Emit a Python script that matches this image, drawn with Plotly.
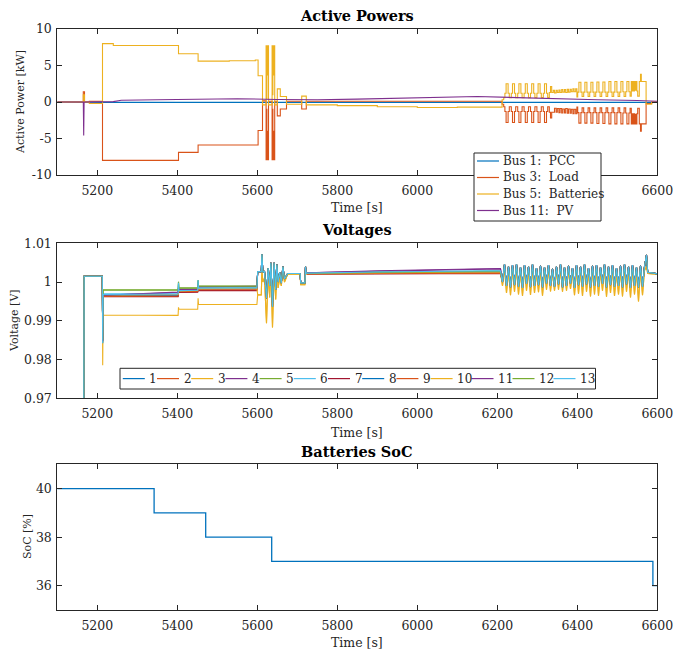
import plotly.graph_objects as go

W, H = 674, 651
FONT = "DejaVu Serif"
INK = "#262626"
COLORS = ['#0072BD', '#D95319', '#EDB120', '#7E2F8E', '#77AC30', '#4DBEEE', '#A2142F']

X_RANGE = [5100, 6600]
X_TICKS = [5200, 5400, 5600, 5800, 6000, 6200, 6400, 6600]

# ---------------- Active powers [kW] ----------------
T_PCC = [5100, 5214, 6600]
P_PCC = [0.0, -0.05, -0.05]

T_PV = [5100, 5165, 5166, 5167, 5240, 5260, 5350, 5450, 5550, 5650, 5750,
        5850, 5950, 6050, 6150, 6250, 6350, 6450, 6550, 6600]
P_PV = [0.0, 0.0, -4.6, 0.0, 0.05, 0.25, 0.3, 0.4, 0.45, 0.35, 0.3,
        0.4, 0.55, 0.7, 0.75, 0.6, 0.4, 0.3, 0.2, 0.1]

T_BAT_PRE = [5100, 5165, 5168, 5180, 5213, 5240, 5403, 5452, 5530, 5595, 5602,
             5613, 5622, 5623, 5624, 5625, 5626, 5628, 5637, 5638, 5639, 5640,
             5641, 5643.5, 5650, 5657.5, 5673, 5711, 5722.5, 5800, 5900, 6000, 6100]
P_BAT_PRE = [0.0, 1.0, 0.0, -0.2, 8.0, 7.75, 6.6, 5.6, 5.65, 5.75, 3.6,
             -0.4, 7.7, 0.5, 7.7, 3.7, 7.7, -0.4, 7.7, 1.0, 7.7, 3.7,
             7.7, -0.4, 1.8, 0.75, -0.3, 0.8, -0.4, -0.5, -0.65, -0.75, -0.7]

T_LOAD_PRE = [5100, 5165, 5168, 5180, 5213, 5403, 5452, 5602, 5613, 5622, 5623,
              5624, 5625, 5626, 5628, 5637, 5638, 5639, 5640, 5641, 5643.5, 5650,
              5657.5, 5673, 5711, 5722.5]
P_LOAD_PRE = [0.0, 1.4, 0.0, 0.1, -8.0, -6.9, -5.9, -3.9, 0.15, -7.9, -1.0,
              -7.9, -4.0, -7.9, 0.1, -7.9, -1.0, -7.9, -4.0, -7.9, 0.1, -1.9,
              -0.95, 0.1, -0.95, 0.1]

T_OSC_P = [6212, 6216,
           6219, 6222, 6227, 6230, 6235, 6238, 6243, 6246,
           6251, 6254, 6259, 6262, 6267, 6270, 6275, 6278,
           6283, 6286, 6291, 6294, 6299, 6302, 6307, 6310,
           6315, 6318, 6323, 6326,
           6330, 6333, 6336,
           6340, 6343, 6347, 6350, 6354, 6357, 6361, 6364, 6368,
           6371, 6375, 6378, 6382, 6385, 6389, 6392, 6396, 6399,
           6401, 6404, 6409, 6412, 6416, 6419, 6424, 6427,
           6431, 6434, 6439, 6442, 6446, 6449, 6454, 6457,
           6461, 6464, 6469, 6472, 6476, 6479, 6484, 6487,
           6491, 6494, 6499, 6502, 6506, 6509, 6514, 6517,
           6521, 6524, 6529, 6532,
           6535, 6537, 6539, 6541, 6543, 6545, 6547, 6549,
           6551, 6555, 6558, 6560, 6572, 6586, 6600]
P_BAT_OSC = [0.3, 0.6,
             1.2, 2.5, 1.2, 0.6, 1.2, 2.5, 1.2, 0.6,
             1.2, 2.5, 1.2, 0.6, 1.2, 2.5, 1.2, 0.6,
             1.2, 2.5, 1.2, 0.6, 1.2, 2.5, 1.2, 0.6,
             1.2, 2.5, 1.2, 0.6,
             1.3, 2.1, 1.3,
             1.6, 1.25, 1.6, 1.3, 1.65, 1.3, 1.7, 1.35, 1.7,
             1.3, 1.75, 1.35, 1.75, 1.4, 1.8, 1.4, 1.8, 0.7,
             1.35, 2.7, 1.35, 0.75, 1.35, 2.7, 1.35, 0.75,
             1.35, 2.7, 1.35, 0.75, 1.35, 2.75, 1.35, 0.75,
             1.35, 2.75, 1.35, 0.75, 1.35, 2.8, 1.35, 0.75,
             1.35, 2.8, 1.35, 0.75, 1.35, 2.8, 1.4, 0.75,
             1.4, 2.8, 1.4, 0.8,
             2.8, 1.5, 2.8, 1.5, 2.8, 1.6, 2.8, 1.5,
             0.8, 2.8, 3.8, 2.8, -0.3, 0.0, 0.0]
P_LOAD_OSC = [-0.3, -0.65,
              -1.3, -2.8, -1.3, -0.65, -1.3, -2.8, -1.3, -0.65,
              -1.3, -2.8, -1.3, -0.65, -1.3, -2.8, -1.3, -0.65,
              -1.3, -2.8, -1.3, -0.65, -1.3, -2.8, -1.3, -0.65,
              -1.3, -2.8, -1.3, -0.65,
              -1.4, -2.2, -1.4,
              -1.4, -0.85, -1.4, -0.9, -1.45, -0.9, -1.5, -0.95, -1.5,
              -0.9, -1.55, -0.95, -1.55, -1.0, -1.6, -1.0, -1.6, -0.7,
              -1.45, -2.9, -1.45, -0.8, -1.45, -2.9, -1.45, -0.8,
              -1.45, -2.9, -1.45, -0.8, -1.45, -2.95, -1.45, -0.8,
              -1.45, -2.95, -1.45, -0.8, -1.45, -3.0, -1.45, -0.8,
              -1.45, -3.0, -1.45, -0.8, -1.45, -3.0, -1.5, -0.8,
              -1.5, -3.0, -1.5, -0.85,
              -3.0, -1.6, -3.0, -1.6, -3.0, -1.7, -3.0, -1.6,
              -0.85, -3.0, -4.0, -3.0, -0.2, 0.0, 0.0]

# ---------------- Bus voltages [V] ----------------
T_LEAD = [5100, 5165, 5167, 5212.5]
V_LEAD = [0.90, 0.90, 1.0015, 1.0015]
T_STEP_A = [5213.5, 5214.5, 5402, 5403, 5404, 5451, 5452, 5453, 5599]
T_STEP_B = [5725, 5900, 6100, 6208]
# one row per bus: 9 values on T_STEP_A followed by 4 values on T_STEP_B
V_STEPS = [
    [0.9842, 0.9966, 0.9966, 0.9980, 0.9976, 0.9977, 0.9990, 0.9982, 0.9983, 1.0022, 1.0024, 1.0027, 1.0026],
    [0.9850, 0.9963, 0.9963, 0.9975, 0.9974, 0.9975, 0.9985, 0.9979, 0.9979, 1.0021, 1.0022, 1.0023, 1.0023],
    [0.9785, 0.9915, 0.9914, 0.9935, 0.9930, 0.9930, 0.9958, 0.9942, 0.9942, 1.0021, 1.0022, 1.0024, 1.0024],
    [0.9848, 0.9966, 0.9973, 0.9985, 0.9980, 0.9981, 0.9995, 0.9987, 0.9988, 1.0024, 1.0028, 1.0033, 1.0034],
    [0.9852, 0.9980, 0.9980, 1.0001, 0.9985, 0.9985, 1.0005, 0.9990, 0.9990, 1.0022, 1.0025, 1.0028, 1.0028],
    [0.9845, 0.9970, 0.9970, 0.9995, 0.9979, 0.9979, 1.0002, 0.9985, 0.9985, 1.0023, 1.0026, 1.0029, 1.0029],
    [0.9850, 0.9962, 0.9962, 0.9975, 0.9973, 0.9974, 0.9985, 0.9978, 0.9978, 1.0021, 1.0021, 1.0022, 1.0022],
    [0.9844, 0.9967, 0.9967, 0.9982, 0.9977, 0.9978, 0.9992, 0.9983, 0.9984, 1.0022, 1.0024, 1.0027, 1.0027],
    [0.9850, 0.9963, 0.9964, 0.9976, 0.9975, 0.9976, 0.9986, 0.9980, 0.9980, 1.0021, 1.0022, 1.0023, 1.0023],
    [0.9846, 0.9967, 0.9968, 0.9982, 0.9977, 0.9978, 0.9992, 0.9983, 0.9984, 1.0022, 1.0024, 1.0027, 1.0027],
    [0.9848, 0.9966, 0.9974, 0.9986, 0.9981, 0.9982, 0.9996, 0.9988, 0.9989, 1.0024, 1.0029, 1.0034, 1.0035],
    [0.9852, 0.9979, 0.9979, 1.0000, 0.9984, 0.9984, 1.0004, 0.9989, 0.9989, 1.0022, 1.0025, 1.0028, 1.0028],
    [0.9842, 0.9968, 0.9969, 0.9998, 0.9978, 0.9979, 1.0005, 0.9984, 0.9985, 1.0023, 1.0026, 1.0029, 1.0029],
]
LOW_BUSES = [3, 10]

T_TRANS = [5601, 5610, 5611.5, 5614, 5618, 5623, 5627, 5631, 5634, 5638, 5642, 5646, 5649,
           5652, 5656, 5660, 5664, 5668, 5672, 5676, 5707, 5708.5, 5719, 5720.5, 5722]
V_TRANS_HI = [1.0027, 1.0027, 1.0072, 1.0025, 1.0028, 0.9958, 1.0036, 0.9990, 1.0050, 0.9936,
              1.0050, 0.9980, 1.0045, 1.0000, 1.0025, 0.9997, 1.0040, 1.0008, 1.0015, 1.0022,
              1.0022, 0.9998, 0.9998, 1.0040, 1.0023]
V_TRANS_LO = [0.9967, 0.9967, 1.0030, 1.0000, 1.0010, 0.9894, 1.0020, 0.9960, 1.0035, 0.9883,
              1.0030, 0.9955, 1.0030, 0.9985, 1.0010, 0.9990, 1.0030, 1.0000, 1.0010, 1.0020,
              1.0020, 0.9993, 0.9993, 1.0030, 1.0021]

T_OSC_V = [6213, 6218, 6223, 6228, 6233, 6238, 6243, 6248, 6253, 6258, 6263, 6268,
           6273, 6278, 6283, 6288, 6293, 6298, 6303, 6308, 6313, 6318, 6323, 6328,
           6333, 6338, 6343, 6348, 6353, 6358, 6363, 6368, 6373, 6378, 6383, 6388,
           6393, 6398, 6403, 6408, 6413, 6418, 6423, 6428, 6433, 6438, 6443, 6448,
           6453, 6458, 6463, 6468, 6473, 6478, 6483, 6488, 6493, 6498, 6503, 6508,
           6513, 6518, 6523, 6528, 6533, 6538, 6543, 6548, 6553, 6558, 6563, 6568]
V_OSC_HI = [1.0000, 1.0046, 0.9990, 1.0040, 0.9986, 1.0044, 0.9992, 1.0046, 0.9988, 1.0038, 0.9985, 1.0044,
            0.9995, 1.0040, 0.9987, 1.0046, 0.9990, 1.0036, 0.9992, 1.0042, 0.9986, 1.0038, 0.9996, 1.0044,
            0.9990, 1.0034, 0.9988, 1.0040, 0.9994, 1.0046, 0.9986, 1.0038, 0.9990, 1.0042, 0.9996, 1.0036,
            0.9985, 1.0044, 0.9992, 1.0040, 0.9988, 1.0046, 0.9994, 1.0036, 0.9986, 1.0042, 0.9990, 1.0044,
            0.9988, 1.0038, 0.9995, 1.0046, 0.9986, 1.0040, 0.9992, 1.0044, 0.9988, 1.0036, 0.9990, 1.0042,
            0.9986, 1.0046, 0.9994, 1.0040, 0.9985, 1.0044, 0.9990, 1.0038, 0.9986, 1.0042, 0.9988, 1.0040]
V_OSC_LO = [0.9990, 1.0036, 0.9972, 1.0030, 0.9966, 1.0034, 0.9975, 1.0036, 0.9968, 1.0028, 0.9964, 1.0034,
            0.9978, 1.0030, 0.9967, 1.0036, 0.9972, 1.0026, 0.9974, 1.0032, 0.9965, 1.0028, 0.9980, 1.0034,
            0.9976, 1.0026, 0.9978, 1.0030, 0.9980, 1.0034, 0.9975, 1.0028, 0.9978, 1.0032, 0.9982, 1.0026,
            0.9966, 1.0034, 0.9970, 1.0030, 0.9964, 1.0036, 0.9975, 1.0026, 0.9963, 1.0032, 0.9968, 1.0034,
            0.9965, 1.0028, 0.9978, 1.0036, 0.9962, 1.0030, 0.9972, 1.0034, 0.9964, 1.0026, 0.9968, 1.0032,
            0.9963, 1.0036, 0.9975, 1.0030, 0.9960, 1.0034, 0.9968, 1.0028, 0.9950, 1.0032, 0.9966, 1.0030]

T_TAIL = [6573, 6576, 6590, 6600]
V_TAIL_HI = [1.0070, 1.0025, 1.0023, 1.0021]
V_TAIL_LO = [1.0040, 1.0022, 1.0021, 1.0020]

# ---------------- Battery state of charge [%] ----------------
T_SOC = [5100, 5342, 5471, 5636, 6589, 6600]
SOC = [40, 39, 38, 37, 36, 36]

for a, b in [(T_BAT_PRE, P_BAT_PRE), (T_LOAD_PRE, P_LOAD_PRE), (T_OSC_P, P_BAT_OSC),
             (T_OSC_P, P_LOAD_OSC), (T_TRANS, V_TRANS_HI), (T_TRANS, V_TRANS_LO),
             (T_OSC_V, V_OSC_HI), (T_OSC_V, V_OSC_LO), (T_PV, P_PV)]:
    assert len(a) == len(b), (len(a), len(b))


def paper(x, y):
    return x / W, 1 - y / H


fig = go.Figure()
LW = 1.1

# Active powers
fig.add_trace(go.Scatter(x=T_PCC, y=P_PCC, mode="lines", line=dict(color=COLORS[0], width=LW),
                         xaxis="x", yaxis="y", name="Bus 1: PCC"))
fig.add_trace(go.Scatter(x=T_LOAD_PRE + T_OSC_P, y=P_LOAD_PRE + P_LOAD_OSC, mode="lines",
                         line=dict(color=COLORS[1], width=LW, shape="hv"),
                         xaxis="x", yaxis="y", name="Bus 3: Load"))
fig.add_trace(go.Scatter(x=T_BAT_PRE + T_OSC_P, y=P_BAT_PRE + P_BAT_OSC, mode="lines",
                         line=dict(color=COLORS[2], width=LW, shape="hv"),
                         xaxis="x", yaxis="y", name="Bus 5: Batteries"))
fig.add_trace(go.Scatter(x=T_PV, y=P_PV, mode="lines", line=dict(color=COLORS[3], width=LW),
                         xaxis="x", yaxis="y", name="Bus 11: PV"))

# Voltages of the 13 buses
for i, row in enumerate(V_STEPS):
    bus = i + 1
    low = bus in LOW_BUSES
    t = T_LEAD + T_STEP_A + T_TRANS + T_STEP_B + T_OSC_V + T_TAIL
    v = (V_LEAD + row[:9] + (V_TRANS_LO if low else V_TRANS_HI) + row[9:]
         + (V_OSC_LO if low else V_OSC_HI) + (V_TAIL_LO if low else V_TAIL_HI))
    fig.add_trace(go.Scatter(x=t, y=v, mode="lines",
                             line=dict(color=COLORS[i % 7], width=LW),
                             xaxis="x2", yaxis="y2", name=str(bus)))

# SoC
fig.add_trace(go.Scatter(x=T_SOC, y=SOC, mode="lines",
                         line=dict(color=COLORS[0], width=1.3, shape="hv"),
                         xaxis="x3", yaxis="y3", name="SoC"))

XD = [57.3 / W, 657.3 / W]
boxes = {"": (29, 175), "2": (243.3, 398.3), "3": (464.3, 610)}

tickfont = dict(family=FONT, size=12.5, color=INK)
common = dict(showline=True, linecolor=INK, linewidth=1, mirror="ticks", ticks="inside",
              ticklen=5, tickcolor=INK, tickwidth=1, showgrid=False, zeroline=False,
              automargin=False, tickfont=tickfont)

layout = dict(width=W, height=H, margin=dict(l=0, r=0, t=0, b=0, autoexpand=False),
              paper_bgcolor="white", plot_bgcolor="white", showlegend=False)

y_specs = {
    "": dict(range=[-10, 10], tickvals=[-10, -5, 0, 5, 10], ticktext=["-10", "-5", "0", "5", "10"]),
    "2": dict(range=[0.97, 1.01], tickvals=[0.97, 0.98, 0.99, 1.0, 1.01],
              ticktext=["0.97", "0.98", "0.99", "1", "1.01"]),
    "3": dict(range=[35, 41], tickvals=[36, 38, 40], ticktext=["36", "38", "40"]),
}
# the legend of the power panel sits over the 6200 and 6400 labels
x_labels = {
    "": ["5200", "5400", "5600", "5800", "6000", "", "", "6600"],
    "2": [str(v) for v in X_TICKS],
    "3": [str(v) for v in X_TICKS],
}
for k, (top, bot) in boxes.items():
    layout["xaxis" + k] = dict(domain=XD, anchor="y" + k, range=X_RANGE, tickvals=X_TICKS,
                               ticktext=x_labels[k], ticklabelstandoff=4, **common)
    layout["yaxis" + k] = dict(domain=[1 - bot / H, 1 - top / H], anchor="x" + k,
                               ticklabelstandoff=2, **y_specs[k], **common)

annotations = []
shapes = []


def text(s, x, y, size, bold=False, angle=0, xanchor="center"):
    px, py = paper(x, y)
    annotations.append(dict(text=f"<b>{s}</b>" if bold else s, x=px, y=py, xref="paper", yref="paper",
                            showarrow=False, textangle=angle, xanchor=xanchor, yanchor="middle",
                            font=dict(family=FONT, size=size, color="#000000" if bold else INK)))


xc = (57.3 + 657.3) / 2
text("Active Powers", xc, 15, 14.5, bold=True)
text("Voltages", xc, 229.5, 14.5, bold=True)
text("Batteries SoC", xc, 451, 14.5, bold=True)
text("Time [s]", xc, 207, 12.5)
text("Time [s]", xc, 432, 12.5)
text("Time [s]", xc, 642, 12.5)
text("Active Power [kW]", 21, 102, 11, angle=-90)
text("Voltage [V]", 14, 321, 11, angle=-90)
text("SoC [%]", 27, 537, 11, angle=-90)


def rect(x0, y0, x1, y1):
    a, b = paper(x0, y1)
    c, d = paper(x1, y0)
    shapes.append(dict(type="rect", xref="paper", yref="paper", x0=a, y0=b, x1=c, y1=d,
                       fillcolor="white", line=dict(color=INK, width=1), layer="above"))


def seg(x0, x1, y, color):
    a, b = paper(x0, y)
    c, _ = paper(x1, y)
    shapes.append(dict(type="line", xref="paper", yref="paper", x0=a, y0=b, x1=c, y1=b,
                       line=dict(color=color, width=1.2), layer="above"))


# legend of the power panel
rect(474, 153, 601, 221)
for j, (name, yy) in enumerate(zip(["Bus 1:  PCC", "Bus 3:  Load", "Bus 5:  Batteries", "Bus 11:  PV"],
                                   [161, 177.5, 194, 210.5])):
    seg(477, 499, yy, COLORS[j])
    text(name, 500.5, yy, 12, xanchor="left")

# legend of the voltage panel
rect(120, 368.3, 595.5, 389)
LEG2_X = [122.8, 157, 191.2, 225.4, 259.6, 293.8, 328, 362.2, 396.4, 430.6, 471.5, 512.5, 553.5]
for i, x0 in enumerate(LEG2_X):
    seg(x0, x0 + 22, 378.6, COLORS[i % 7])
    text(str(i + 1), x0 + 24.5, 378.6, 12, xanchor="left")

layout["annotations"] = annotations
layout["shapes"] = shapes
fig.update_layout(**layout)
fig.write_html("out.html")
